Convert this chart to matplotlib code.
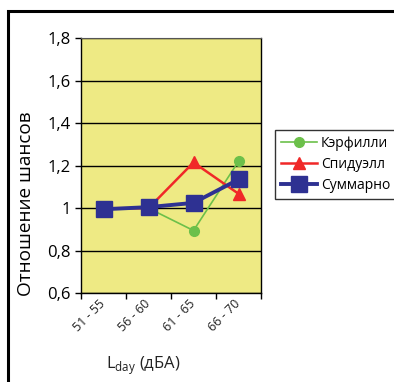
import matplotlib.pyplot as plt
import matplotlib.patches as mpatches
from matplotlib.transforms import ScaledTranslation

# odds ratio by daytime noise band
bands = ["51 - 55", "56 - 60", "61 - 65", "66 - 70"]
caerphilly = [1.0, 1.0, 0.895, 1.22]
speedwell = [1.0, 1.0, 1.215, 1.068]
combined = [0.995, 1.005, 1.025, 1.135]
yticks = [0.6, 0.8, 1.0, 1.2, 1.4, 1.6, 1.8]
ylabels = ["0,6", "0,8", "1", "1,2", "1,4", "1,6", "1,8"]

plt.rcParams["font.family"] = ["Open Sans", "DejaVu Sans"]

fig = plt.figure(figsize=(3.94, 3.82), dpi=100)

# outer frame, runs off the right and bottom edges
fig.patches.append(mpatches.Rectangle((7.5 / 394, -0.05), 1.0, 1 - 11 / 382 + 0.05,
                                      transform=fig.transFigure, fill=False,
                                      edgecolor="black", linewidth=2.2))

ax = fig.add_axes([81 / 394, 1 - 293.3 / 382, 180 / 394, 255.3 / 382])
ax.set_facecolor("#EEEA84")

x = list(range(len(bands)))
ax.plot(x, caerphilly, color="#6CC04A", lw=1.2, marker="o", ms=7, label="Кэрфилли")
ax.plot(x, speedwell, color="#F02828", lw=1.8, marker="^", ms=9, label="Спидуэлл")
ax.plot(x, combined, color="#2E3192", lw=2.8, marker="s", ms=11, label="Суммарно")

ax.set_ylim(0.6, 1.8)
ax.set_yticks(yticks)
ax.set_yticklabels(ylabels, fontsize=12)
ax.yaxis.grid(True, color="black", lw=1)
ax.set_axisbelow(True)

ax.set_xlim(-0.5, len(bands) - 0.5)
ax.set_xticks([i - 0.5 for i in range(len(bands) + 1)])
ax.set_xticklabels([])
ax.set_xticks(x, minor=True)
ax.set_xticklabels(bands, minor=True, rotation=45, ha="right",
                   rotation_mode="anchor", fontsize=9, color="#222222")
ax.tick_params(axis="x", which="minor", length=0, pad=5)
ax.tick_params(axis="both", which="major", direction="out", length=4, width=1)
shift = ScaledTranslation(-5 / 100, 3 / 100, fig.dpi_scale_trans)
for lbl in ax.get_xticklabels(minor=True):
    lbl.set_transform(lbl.get_transform() + shift)

for side in ["left", "bottom", "right"]:
    ax.spines[side].set_color("black")
    ax.spines[side].set_linewidth(1)
ax.spines["top"].set_color("#555555")

ax.set_ylabel("Отношение шансов", fontsize=13.7)
ax.yaxis.set_label_coords(-0.255, 0.35)
ax.set_xlabel("L$_{\\mathregular{day}}$ (дБА)", fontsize=12, color="#222222")
ax.xaxis.set_label_coords(0.344, -0.24)

leg = ax.legend(loc="center left", bbox_to_anchor=(275 / 394, 1 - 164.5 / 382),
                bbox_transform=fig.transFigure, fontsize=10, frameon=True,
                fancybox=False, edgecolor="black", handlelength=2.6,
                handletextpad=0.3, borderpad=0.4, labelspacing=0.45,
                borderaxespad=0)
leg.get_frame().set_linewidth(1)

fig.savefig("out.png", dpi=100)
